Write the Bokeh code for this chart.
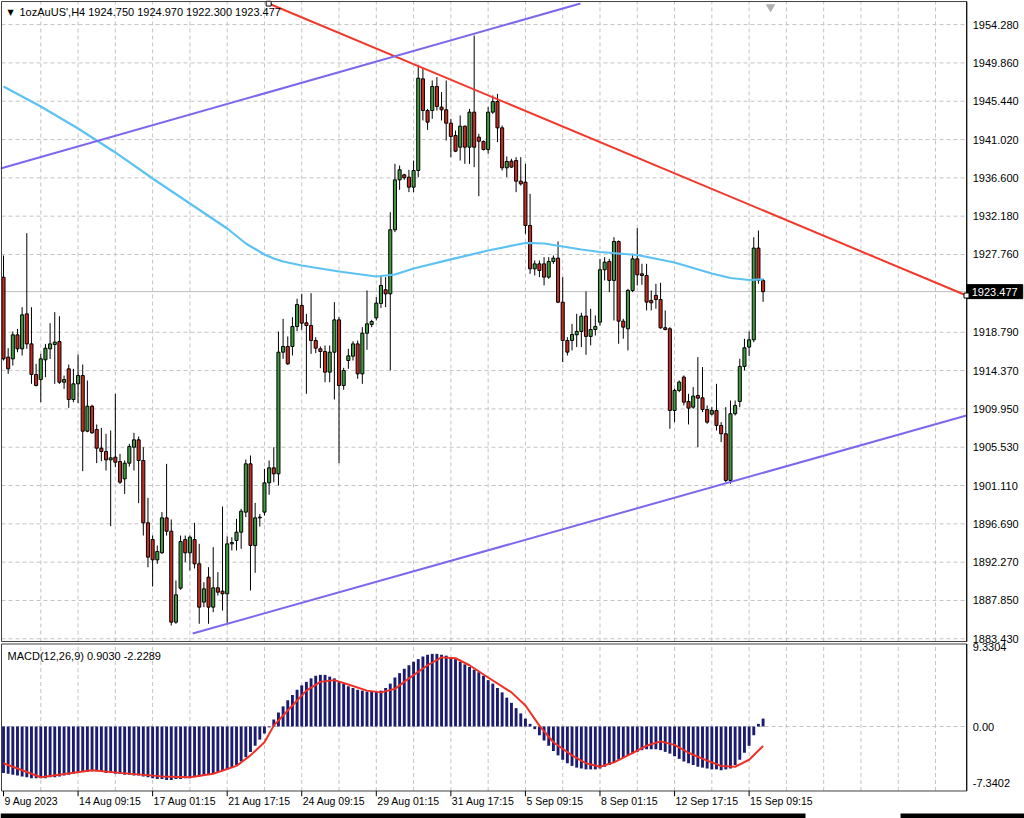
from bokeh.plotting import figure
from bokeh.models import Range1d
from bokeh.core.properties import value
from bokeh.embed import file_html
from bokeh.resources import INLINE

FONT = "Liberation Sans"

# ---------------- data ----------------
bar_index = list(range(164))
open_ = [1925.14, 1915.92, 1915.72, 1918.49, 1916.88, 1920.91, 1917.45, 1913.92, 1913.34, 1915.61,
         1916.88, 1917.38, 1917.72, 1913.03, 1914.57, 1911.03, 1912.84, 1913.80, 1907.38, 1910.26,
         1907.57, 1905.42, 1905.03, 1904.07, 1904.38, 1903.88, 1901.88, 1903.69, 1905.53, 1906.38,
         1904.00, 1896.81, 1894.88, 1892.54, 1893.35, 1897.38, 1895.84, 1885.35, 1889.27, 1894.88,
         1893.35, 1894.88, 1892.08, 1887.66, 1890.54, 1887.08, 1889.31, 1888.92, 1888.62, 1894.38,
         1894.77, 1895.73, 1898.04, 1903.61, 1894.19, 1897.38, 1898.04, 1901.42, 1903.15, 1902.46,
         1916.49, 1917.15, 1917.15, 1919.45, 1921.88, 1919.88, 1919.57, 1917.84, 1916.88, 1916.57,
         1914.19, 1916.49, 1920.22, 1912.65, 1915.53, 1916.03, 1917.45, 1913.99, 1918.68, 1919.68,
         1920.45, 1922.11, 1923.69, 1923.22, 1930.61, 1936.37, 1936.95, 1936.68, 1935.53, 1937.45,
         1948.02, 1944.37, 1944.37, 1947.14, 1944.76, 1944.45, 1942.91, 1941.49, 1940.14, 1942.56,
         1940.14, 1944.18, 1941.30, 1940.80, 1939.87, 1944.18, 1945.41, 1942.37, 1937.76, 1938.53,
         1938.60, 1936.22, 1936.11, 1931.11, 1926.11, 1926.68, 1926.68, 1925.15, 1926.95, 1927.34,
         1922.26, 1917.84, 1917.84, 1918.50, 1918.88, 1920.65, 1918.31, 1919.11, 1919.96, 1926.00,
         1926.96, 1924.77, 1929.26, 1920.07, 1919.19, 1923.61, 1927.26, 1925.53, 1925.34, 1922.46,
         1923.04, 1922.57, 1919.31, 1919.19, 1909.77, 1912.08, 1913.62, 1910.81, 1910.15, 1911.50,
         1911.23, 1909.88, 1909.35, 1909.77, 1908.04, 1907.08, 1901.70, 1909.39, 1910.81, 1914.85,
         1917.08, 1917.92, 1928.50, 1924.750]
high = [1927.64, 1916.95, 1918.88, 1919.18, 1921.68, 1930.22, 1921.68, 1915.15, 1916.30, 1917.45,
        1919.84, 1921.11, 1920.64, 1913.80, 1915.07, 1914.57, 1916.22, 1915.07, 1913.22, 1910.42,
        1908.15, 1907.76, 1907.07, 1907.46, 1911.69, 1904.76, 1904.00, 1905.92, 1907.19, 1906.76,
        1905.53, 1899.69, 1895.34, 1894.19, 1898.04, 1903.61, 1897.19, 1890.15, 1895.34, 1895.34,
        1895.34, 1896.81, 1894.38, 1889.96, 1891.69, 1894.00, 1891.12, 1898.69, 1895.23, 1895.15,
        1897.27, 1898.42, 1904.11, 1904.57, 1899.11, 1897.84, 1903.04, 1904.00, 1905.53, 1918.88,
        1920.34, 1918.30, 1920.53, 1922.65, 1923.22, 1920.91, 1923.30, 1918.22, 1917.15, 1917.26,
        1917.26, 1922.26, 1920.53, 1914.69, 1916.88, 1917.76, 1917.84, 1919.38, 1923.61, 1920.22,
        1922.84, 1925.30, 1925.15, 1932.64, 1938.22, 1938.03, 1937.07, 1937.53, 1938.60, 1949.64,
        1949.18, 1944.56, 1947.83, 1948.22, 1946.49, 1947.83, 1943.41, 1942.06, 1943.80, 1942.64,
        1944.56, 1953.02, 1941.68, 1940.91, 1944.76, 1946.10, 1946.29, 1942.64, 1939.07, 1938.80,
        1938.99, 1938.99, 1938.22, 1934.76, 1927.07, 1927.07, 1927.45, 1927.45, 1927.65, 1929.26,
        1925.15, 1918.22, 1919.76, 1920.92, 1921.04, 1923.50, 1921.50, 1920.73, 1927.26, 1927.46,
        1927.26, 1929.76, 1929.38, 1920.34, 1923.80, 1927.84, 1930.80, 1926.69, 1926.69, 1923.61,
        1924.38, 1924.50, 1921.31, 1919.38, 1912.27, 1913.23, 1913.81, 1911.69, 1912.46, 1915.92,
        1914.77, 1910.35, 1910.15, 1912.84, 1908.42, 1910.15, 1910.92, 1910.92, 1915.73, 1918.04,
        1918.88, 1929.76, 1930.53, 1924.970]
low = [1915.53, 1913.99, 1914.95, 1916.49, 1916.11, 1916.88, 1912.84, 1912.55, 1910.72, 1913.61,
       1915.72, 1912.84, 1912.84, 1912.26, 1910.07, 1910.72, 1910.61, 1902.77, 1907.26, 1907.07,
       1903.69, 1903.92, 1902.84, 1896.42, 1903.23, 1901.30, 1900.15, 1903.30, 1902.84, 1899.07,
       1895.34, 1891.69, 1889.46, 1892.08, 1893.23, 1895.34, 1884.96, 1885.16, 1889.08, 1892.27,
       1891.31, 1891.54, 1885.16, 1887.08, 1885.16, 1886.50, 1888.42, 1886.69, 1885.16, 1893.62,
       1893.62, 1893.81, 1897.46, 1889.00, 1891.04, 1896.38, 1897.65, 1900.04, 1901.50, 1901.11,
       1915.72, 1915.03, 1916.11, 1918.92, 1919.07, 1911.69, 1916.30, 1916.38, 1914.65, 1913.03,
       1913.03, 1911.03, 1903.69, 1912.15, 1914.57, 1915.53, 1913.42, 1912.84, 1916.76, 1919.38,
       1920.15, 1921.60, 1921.69, 1914.38, 1930.34, 1935.22, 1936.37, 1934.95, 1934.95, 1936.68,
       1943.22, 1942.14, 1943.41, 1944.37, 1943.22, 1940.91, 1938.99, 1939.57, 1938.60, 1938.22,
       1938.22, 1937.84, 1934.49, 1939.76, 1939.37, 1943.99, 1940.72, 1937.45, 1936.68, 1937.76,
       1934.95, 1935.72, 1930.15, 1925.53, 1925.34, 1925.15, 1924.19, 1924.95, 1926.68, 1922.15,
       1915.34, 1916.11, 1916.69, 1917.08, 1917.08, 1916.19, 1917.27, 1918.42, 1919.57, 1924.77,
       1923.42, 1920.15, 1917.46, 1918.04, 1916.69, 1923.42, 1924.19, 1924.27, 1921.31, 1921.31,
       1921.50, 1919.19, 1919.00, 1907.66, 1908.42, 1911.88, 1910.35, 1908.16, 1909.96, 1905.54,
       1909.58, 1908.23, 1909.19, 1907.46, 1906.12, 1901.50, 1901.31, 1909.19, 1910.15, 1914.38,
       1916.04, 1917.65, 1924.38, 1922.300]
close = [1915.72, 1914.57, 1918.49, 1916.88, 1920.80, 1917.45, 1913.92, 1912.65, 1915.72, 1916.95,
         1917.45, 1917.65, 1913.03, 1913.34, 1911.03, 1912.84, 1913.80, 1907.38, 1910.26, 1907.19,
         1905.42, 1905.03, 1904.07, 1904.30, 1903.80, 1901.50, 1903.69, 1905.61, 1906.38, 1904.00,
         1896.81, 1892.85, 1892.54, 1893.50, 1897.38, 1895.84, 1885.35, 1888.50, 1894.65, 1893.35,
         1895.15, 1892.08, 1887.08, 1889.19, 1887.08, 1889.31, 1888.81, 1888.62, 1894.38, 1894.54,
         1895.73, 1898.15, 1903.61, 1894.19, 1897.38, 1897.46, 1901.42, 1903.15, 1902.46, 1916.49,
         1917.15, 1915.15, 1919.45, 1921.99, 1919.84, 1919.57, 1917.84, 1916.95, 1916.57, 1914.19,
         1916.49, 1920.22, 1912.65, 1914.38, 1916.07, 1917.45, 1913.99, 1918.68, 1919.76, 1920.03,
         1922.15, 1924.19, 1923.22, 1930.61, 1936.37, 1937.53, 1936.61, 1935.53, 1937.45, 1948.10,
         1944.37, 1943.03, 1947.14, 1944.83, 1944.45, 1942.91, 1941.37, 1939.68, 1942.56, 1940.14,
         1944.18, 1940.14, 1940.83, 1939.87, 1944.18, 1945.41, 1942.37, 1937.76, 1938.49, 1937.84,
         1936.22, 1935.91, 1931.11, 1926.11, 1926.68, 1925.92, 1925.15, 1926.95, 1927.34, 1922.26,
         1917.84, 1916.50, 1918.53, 1918.88, 1920.65, 1918.31, 1919.11, 1919.46, 1926.00, 1926.88,
         1924.77, 1929.26, 1920.07, 1919.38, 1923.61, 1927.26, 1925.42, 1925.34, 1922.27, 1922.19,
         1922.57, 1919.31, 1919.11, 1909.77, 1912.08, 1913.04, 1910.73, 1910.04, 1911.42, 1911.19,
         1909.88, 1908.42, 1909.77, 1908.04, 1907.08, 1901.70, 1909.39, 1910.35, 1914.85, 1917.00,
         1917.92, 1928.50, 1924.77, 1923.477]

# light-blue moving average, read at a few bars
ma_bars = [0, 8, 16, 24, 32, 40, 48, 52, 56, 58, 60, 64, 72, 80, 84, 88, 96, 104, 112, 116,
           120, 124, 128, 136, 144, 152, 156, 160, 163]
ma_values = [1947.14, 1944.83, 1942.30, 1939.53, 1936.53, 1933.64, 1930.76, 1929.03, 1927.76,
             1927.30, 1926.95, 1926.49, 1925.80, 1925.22, 1925.45, 1926.15, 1927.19, 1928.22,
             1929.09, 1929.03, 1928.68, 1928.34, 1928.05, 1927.70, 1926.84, 1925.57, 1925.05,
             1924.82, 1924.88]

# MACD(12,26,9) main line (histogram) per bar
macd_main = [-5.3, -5.4, -5.5, -5.6, -5.7, -5.8, -5.9, -5.9,
             -5.9, -5.9, -5.8, -5.8, -5.7, -5.6, -5.5, -5.4,
             -5.3, -5.2, -5.2, -5.1, -5.1, -5.2, -5.3, -5.3,
             -5.4, -5.4, -5.5, -5.5, -5.6, -5.6, -5.7, -5.8,
             -5.9, -6.0, -6.0, -6.1, -6.1, -6.0, -6.0, -5.9,
             -5.9, -5.8, -5.7, -5.6, -5.5, -5.4, -5.2, -5.0,
             -4.9, -4.7, -4.4, -4.0, -3.5, -2.9, -2.2, -1.5,
             -0.8, -0.1, 0.8, 1.6, 2.3, 3.0, 3.6, 4.2,
             4.7, 5.1, 5.5, 5.8, 5.9, 5.9, 5.7, 5.5,
             5.2, 4.9, 4.6, 4.4, 4.2, 4.1, 4.0, 4.0,
             4.0, 4.1, 4.4, 4.9, 5.6, 6.1, 6.6, 7.0,
             7.4, 7.7, 8.0, 8.2, 8.3, 8.3, 8.2, 8.1,
             7.9, 7.7, 7.4, 7.1, 6.8, 6.5, 6.2, 5.8,
             5.3, 4.9, 4.4, 3.9, 3.3, 2.7, 2.1, 1.5,
             0.9, 0.3, -0.3, -1.0, -1.6, -2.2, -2.8, -3.3,
             -3.8, -4.2, -4.5, -4.7, -4.8, -4.9, -4.9, -4.9,
             -4.8, -4.6, -4.4, -4.1, -3.8, -3.6, -3.3, -3.1,
             -2.9, -2.7, -2.6, -2.6, -2.6, -2.7, -2.9, -3.1,
             -3.4, -3.7, -4.0, -4.2, -4.4, -4.6, -4.7, -4.8,
             -4.9, -4.9, -5.0, -4.9, -4.8, -4.4, -3.8, -3.0,
             -2.2, -1.0, 0.3, 0.9030]
signal_bars = [0, 4, 8, 19, 25, 34, 40, 45, 50, 53, 56, 58, 62, 65, 68, 71, 74, 78, 81, 84,
               87, 91, 94, 97, 100, 104, 109, 112, 115, 118, 122, 125, 128, 131, 134, 138,
               141, 144, 147, 151, 154, 157, 160, 163]
signal_values = [-4.2, -5.0, -5.8, -5.0, -5.3, -5.7, -5.8, -5.4, -4.5, -3.3, -1.8, 0.1, 2.4,
                 4.1, 5.1, 5.3, 4.8, 4.1, 3.9, 4.3, 5.5, 7.0, 7.9, 7.8, 7.0, 5.6, 3.9, 2.4,
                 0.1, -1.8, -3.3, -4.2, -4.6, -4.1, -3.3, -2.2, -1.7, -2.1, -3.0, -3.9, -4.5,
                 -4.6, -3.8, -2.2289]

# trend lines (two anchors each: bar, price)
red_line_bars = [56.9, 206.65]
red_line_prices = [1956.71, 1923.03]
upper_channel_bars = [-0.64, 123.8]
upper_channel_prices = [1937.68, 1956.71]
lower_channel_bars = [40.6, 206.65]
lower_channel_prices = [1884.04, 1909.19]

last_price = 1923.477
price_ticks = [1883.43, 1887.85, 1892.27, 1896.69, 1901.11, 1905.53, 1909.95, 1914.37,
               1918.79, 1927.76, 1932.18, 1936.60, 1941.02, 1945.44, 1949.86, 1954.28]
time_tick_bars = [0, 16, 32, 48, 64, 80, 96, 112, 128, 144, 160]
time_tick_labels = ["9 Aug 2023", "14 Aug 09:15", "17 Aug 01:15", "21 Aug 17:15",
                    "24 Aug 09:15", "29 Aug 01:15", "31 Aug 17:15", "5 Sep 09:15",
                    "8 Sep 01:15", "12 Sep 17:15", "15 Sep 09:15"]
grid_bars = list(range(8, 207, 8))
macd_max, macd_min = 9.3304, -7.3402
title_text = "1ozAuUS',H4  1924.750 1924.970 1922.300 1923.477"
macd_title = "MACD(12,26,9) 0.9030 -2.2289"

# ---------------- layout constants (pixels / panel geometry) ----------------
W, H = 1024, 818
BARS_VISIBLE = 219.74
X0 = -0.644
X1 = X0 + BARS_VISIBLE
PX = W / BARS_VISIBLE            # pixels per bar
AXIS_X = 206.7                   # price-axis line (bar units)
PANEL_L = -0.43
PRICE_TOP, PRICE_BOT = 1956.94, 1883.12
MACD_TOP, MACD_BOT = 9.43, -7.37
BULL, BEAR = "#3f9b3f", "#c62b20"
GRID = "#c4c4c4"
FS = "11px"
FS_TIME = "10.5px"

p = figure(width=W, height=H, x_range=Range1d(X0, X1), y_range=Range1d(1862.70, 1957.06),
           x_axis_location=None, y_axis_location=None, min_border=0,
           outline_line_color=None, toolbar_location=None, output_backend="svg")
p.extra_y_ranges = {"macd": Range1d(-10.514, 82.971)}
for g in p.grid:
    g.visible = False
p.background_fill_color = "white"
p.border_fill_color = "white"

# ---- grids ----
n = len(grid_bars)
p.segment(x0=grid_bars, x1=grid_bars, y0=[PRICE_BOT] * n, y1=[PRICE_TOP] * n,
          line_color=GRID, line_dash="4 3", line_width=1)
p.segment(x0=grid_bars, x1=grid_bars, y0=[MACD_BOT] * n, y1=[MACD_TOP] * n,
          line_color=GRID, line_dash="4 3", line_width=1, y_range_name="macd")
k = len(price_ticks)
p.segment(x0=[PANEL_L] * k, x1=[AXIS_X] * k, y0=price_ticks, y1=price_ticks,
          line_color=GRID, line_dash="4 3", line_width=1)
p.segment(x0=[PANEL_L], x1=[AXIS_X], y0=[0], y1=[0], line_color=GRID, line_dash="4 3",
          y_range_name="macd")
p.segment(x0=[PANEL_L], x1=[AXIS_X], y0=[last_price], y1=[last_price], line_color="#bdbdbd")

# ---- candles ----
colors = [BULL if c >= o else BEAR for o, c in zip(open_, close)]
tops = [max(o, c) for o, c in zip(open_, close)]
bots = [min(o, c) for o, c in zip(open_, close)]
p.segment(x0=bar_index, y0=high, x1=bar_index, y1=low, line_color="#000000", line_width=1)
p.vbar(x=bar_index, width=0.66, top=tops, bottom=bots, fill_color=colors,
       line_color="#000000", line_width=1)

# ---- indicator + drawn lines ----
p.line(ma_bars, ma_values, line_color="#5cc2f2", line_width=2.2)
p.line(red_line_bars, red_line_prices, line_color="#f2382b", line_width=2)
p.line(upper_channel_bars, upper_channel_prices, line_color="#7b68ee", line_width=2)
p.line(lower_channel_bars, lower_channel_prices, line_color="#7b68ee", line_width=2)
p.scatter([red_line_bars[0]], [red_line_prices[0]], marker="square", size=5,
          fill_color="white", line_color="#000000")
p.scatter([164.6], [1956.3], marker="inverted_triangle", size=8,
          fill_color="#b0b0b0", line_color="#b0b0b0")

# ---- MACD ----
p.vbar(x=bar_index, width=0.62, top=macd_main, bottom=0, fill_color="#1b1b72",
       line_color=None, y_range_name="macd")
p.line(signal_bars, signal_values, line_color="#ee3124", line_width=2, y_range_name="macd")

# ---- panel frames and axis lines ----
p.quad(left=[PANEL_L], right=[AXIS_X], top=[PRICE_TOP], bottom=[PRICE_BOT],
       fill_color=None, line_color="#404040", line_width=1)
p.quad(left=[PANEL_L], right=[AXIS_X], top=[MACD_TOP], bottom=[MACD_BOT],
       fill_color=None, line_color="#404040", line_width=1, y_range_name="macd")
p.segment(x0=[AXIS_X], x1=[AXIS_X], y0=[PRICE_BOT], y1=[PRICE_TOP], line_color="#000000")
p.segment(x0=[AXIS_X], x1=[AXIS_X], y0=[MACD_BOT], y1=[MACD_TOP], line_color="#000000",
          y_range_name="macd")
# time ticks below MACD panel
nt = len(time_tick_bars)
p.segment(x0=time_tick_bars, x1=time_tick_bars, y0=[MACD_BOT] * nt, y1=[MACD_BOT - 0.6] * nt,
          line_color="#000000", y_range_name="macd")
# bottom window strip
p.quad(left=[X0, 192.5], right=[172.1, X1], top=[-9.95, -9.95], bottom=[-10.6, -10.6],
       fill_color="#000000", line_color=None, y_range_name="macd")

# ---- texts ----
txt = dict(text_font=value(FONT), text_font_size=value(FS), text_color="#000000")
p.text(x=[AXIS_X] * k, y=price_ticks, text=[f"{t:.3f}" for t in price_ticks],
       x_offset=6, text_baseline="middle", text_align="left", **txt)
# current price box on the axis
p.rect(x=[AXIS_X + 28 / PX], y=[last_price], width=56, height=14, width_units="screen",
       height_units="screen", fill_color="#000000", line_color="#000000")
p.text(x=[AXIS_X], y=[last_price], text=[f"{last_price:.3f}"], x_offset=5,
       text_baseline="middle", text_align="left", text_font=value(FONT),
       text_font_size=value(FS), text_color="#ffffff")
p.scatter([red_line_bars[1]], [red_line_prices[1]], marker="square", size=5,
          fill_color="white", line_color="#000000")
# titles
p.text(x=[X0], y=[1955.68], text=["▼"], x_offset=7, text_baseline="middle",
       text_font=value("DejaVu Sans"), text_font_size=value("8px"), text_color="#000000")
p.text(x=[X0], y=[1955.68], text=[title_text], x_offset=19, text_baseline="middle",
       text_align="left", **txt)
p.text(x=[X0], y=[8.11], text=[macd_title], x_offset=7, text_baseline="middle",
       text_align="left", y_range_name="macd", **txt)
# MACD scale labels
p.text(x=[AXIS_X] * 3, y=[9.03, 0.0, -6.51],
       text=[f"{macd_max:.4f}", "0.00", f"{macd_min:.4f}"], x_offset=6,
       text_baseline="middle", text_align="left", y_range_name="macd", **txt)
# time labels
p.text(x=time_tick_bars, y=[-8.46] * nt, text=time_tick_labels, x_offset=1,
       text_baseline="middle", text_align="left", y_range_name="macd",
       text_font=value(FONT), text_font_size=value(FS_TIME), text_color="#000000")

open("out.html", "w").write(file_html(p, INLINE))
